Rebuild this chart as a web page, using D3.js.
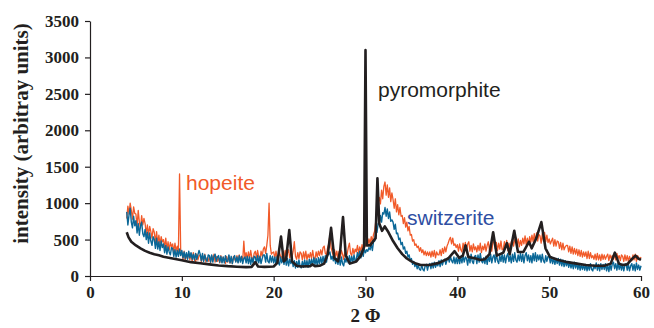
<!DOCTYPE html>
<html>
<head>
<meta charset="utf-8">
<script src="https://cdn.jsdelivr.net/npm/d3@7"></script>
<style>
  html, body { margin: 0; padding: 0; background: #fff; }
  svg { display: block; }
</style>
</head>
<body>
<svg id="chart" width="654" height="328"></svg>
<script>
// Powder diffraction scans, intensity vs 2Φ (degrees)
const scanStart = 4;       // first angle of the hopeite / switzerite scans
const scanStep = 0.125;    // angular step of those scans (8 readings per degree)

// one row per degree, 4° … 59°, then the reading at 60°
const hopeite = [
  790, 960, 850, 1000, 900, 780, 950, 860,
  850, 680, 900, 740, 660, 830, 700, 790,
  720, 580, 700, 560, 680, 610, 520, 650,
  600, 460, 610, 440, 560, 430, 540, 470,
  500, 390, 520, 370, 470, 360, 460, 400,
  440, 330, 450, 340, 410, 320, 1400, 350,
  330, 220, 340, 210, 300, 240, 320, 220,
  310, 200, 320, 230, 190, 300, 220, 280,
  290, 190, 280, 210, 300, 190, 250, 200,
  270, 180, 280, 220, 300, 190, 270, 200,
  250, 180, 280, 190, 260, 210, 170, 270,
  190, 280, 180, 250, 170, 270, 230, 200,
  280, 190, 290, 210, 270, 200, 480, 240,
  320, 230, 330, 240, 350, 250, 220, 310,
  340, 250, 350, 260, 230, 340, 270, 370,
  400, 310, 420, 560, 1000, 420, 300, 320,
  330, 240, 340, 250, 220, 330, 270, 240,
  340, 250, 350, 240, 310, 360, 250, 320,
  260, 340, 470, 270, 230, 320, 240, 330,
  310, 220, 330, 240, 340, 220, 300, 250,
  320, 240, 350, 250, 230, 330, 260, 340,
  280, 360, 290, 390, 410, 310, 290, 390,
  440, 560, 390, 330, 280, 360, 270, 340,
  250, 340, 240, 350, 300, 230, 330, 270,
  300, 390, 450, 310, 280, 380, 300, 370,
  330, 420, 310, 400, 330, 430, 340, 410,
  410, 500, 420, 510, 440, 540, 470, 570,
  620, 760, 860, 1010, 1080, 990, 1180, 1060,
  1230, 1290, 1110, 1250, 1080, 1210, 1020, 1140,
  1050, 930, 1060, 880, 980, 840, 940, 820,
  830, 720, 800, 670, 740, 620, 680, 560,
  570, 480, 500, 420, 440, 390, 410, 340,
  390, 320, 360, 290, 340, 280, 330, 280,
  330, 260, 340, 270, 350, 250, 330, 290,
  290, 360, 280, 380, 310, 400, 330, 410,
  450, 500, 530, 440, 520, 420, 440, 390,
  430, 340, 440, 360, 330, 450, 370, 460,
  350, 440, 470, 340, 420, 330, 440, 360,
  400, 330, 420, 350, 450, 320, 410, 360,
  440, 340, 420, 470, 350, 440, 340, 460,
  480, 380, 460, 350, 450, 370, 480, 360,
  370, 470, 380, 490, 350, 450, 370, 470,
  500, 410, 500, 530, 420, 510, 400, 490,
  420, 520, 440, 550, 430, 520, 430, 540,
  460, 560, 470, 580, 470, 590, 480, 570,
  550, 450, 580, 480, 600, 470, 560, 460,
  510, 440, 480, 520, 410, 500, 410, 480,
  470, 380, 460, 360, 450, 360, 400, 420,
  420, 330, 410, 310, 400, 300, 380, 300,
  370, 280, 360, 270, 350, 260, 330, 270,
  330, 240, 340, 240, 320, 250, 280, 230,
  300, 220, 310, 220, 290, 210, 300, 230,
  290, 230, 270, 300, 210, 290, 240, 280,
  230, 300, 220, 310, 240, 280, 210, 290,
  270, 200, 290, 210, 280, 200, 270, 220,
  210, 290, 220, 300, 200, 280, 250, 230,
  260
];

const switzerite = [
  880, 700, 840, 930, 740, 660, 820, 690,
  760, 590, 720, 560, 690, 740, 580, 540,
  640, 500, 600, 450, 590, 480, 420, 540,
  500, 380, 520, 370, 470, 350, 480, 390,
  440, 320, 420, 300, 400, 330, 290, 390,
  380, 270, 360, 260, 350, 270, 370, 280,
  350, 250, 330, 240, 320, 230, 340, 250,
  320, 230, 300, 220, 310, 230, 290, 350,
  300, 210, 310, 200, 290, 230, 200, 290,
  280, 190, 290, 190, 270, 300, 200, 260,
  280, 190, 270, 180, 260, 180, 280, 200,
  200, 290, 180, 270, 170, 250, 280, 190,
  260, 180, 280, 190, 270, 170, 240, 260,
  180, 270, 170, 260, 160, 250, 180, 270,
  260, 180, 280, 180, 270, 170, 240, 290,
  290, 190, 310, 200, 180, 280, 190, 270,
  180, 260, 160, 270, 190, 150, 260, 180,
  250, 160, 260, 150, 240, 140, 230, 170,
  220, 130, 210, 110, 200, 120, 220, 140,
  110, 200, 120, 220, 130, 210, 120, 230,
  150, 230, 150, 250, 160, 240, 140, 250,
  170, 260, 170, 270, 180, 280, 190, 290,
  300, 330, 230, 270, 210, 260, 170, 240,
  160, 250, 150, 260, 170, 140, 240, 190,
  270, 180, 280, 180, 270, 190, 290, 200,
  230, 320, 240, 340, 250, 350, 270, 370,
  320, 360, 340, 390, 360, 440, 350, 470,
  480, 590, 600, 720, 710, 830, 740, 870,
  850, 940, 820, 920, 790, 880, 750, 770,
  740, 640, 710, 580, 590, 500, 520, 430,
  460, 370, 400, 310, 340, 260, 290, 210,
  240, 160, 200, 130, 170, 100, 150, 90,
  80, 150, 90, 70, 140, 160, 80, 150,
  170, 100, 180, 110, 190, 120, 170, 140,
  210, 130, 220, 150, 210, 230, 160, 220,
  250, 190, 270, 210, 180, 260, 170, 250,
  170, 270, 170, 260, 180, 280, 190, 260,
  240, 150, 280, 180, 300, 200, 170, 270,
  280, 170, 290, 190, 310, 210, 180, 250,
  170, 270, 160, 280, 200, 300, 180, 260,
  290, 190, 310, 210, 170, 280, 200, 300,
  190, 290, 180, 270, 310, 200, 280, 180,
  300, 200, 320, 220, 190, 290, 210, 310,
  200, 300, 180, 280, 320, 210, 290, 190,
  280, 180, 310, 210, 320, 200, 290, 220,
  290, 190, 300, 210, 180, 280, 200, 270,
  270, 180, 260, 170, 250, 160, 240, 170,
  240, 150, 230, 140, 220, 130, 210, 140,
  200, 120, 190, 110, 180, 100, 190, 110,
  180, 90, 170, 80, 160, 90, 150, 80,
  160, 70, 150, 80, 170, 90, 70, 150,
  100, 180, 80, 160, 70, 170, 90, 160,
  90, 170, 70, 150, 60, 160, 80, 170,
  190, 100, 170, 80, 180, 90, 160, 80,
  160, 70, 150, 170, 80, 160, 70, 140,
  170, 80, 160, 70, 180, 90, 150, 80,
  140
];

const pyroAngle = [
  4, 4.2, 4.5, 5, 5.5, 6, 6.5, 7, 7.5, 8, 9, 10, 11, 12, 13, 14, 15, 16, 17, 17.6,
  18, 18.3, 19, 20, 20.4, 20.8, 21.1, 21.35, 21.7, 22, 22.5, 23, 24, 24.2, 24.5, 25, 25.5, 25.9, 26.25, 26.6,
  27, 27.25, 27.55, 27.85, 28.3, 29, 29.5, 29.85, 30, 30.15, 30.5, 31.1, 31.3, 31.5, 31.8, 32.1, 32.5, 33, 33.5, 34,
  34.5, 35, 35.5, 36, 37, 38, 39, 39.7, 40.2, 40.6, 40.9, 41.2, 42, 42.5, 43, 43.5, 43.9, 44.3, 45, 45.4,
  45.7, 46.2, 46.6, 47.2, 47.8, 48.1, 48.6, 49.15, 49.6, 50.1, 51, 52, 53, 54, 55, 56, 56.7, 57.15, 57.6, 58,
  58.5, 59, 59.4, 59.7, 60
];
const pyroIntensity = [
  600, 530, 470, 420, 380, 345, 320, 300, 285, 265, 240, 215, 190, 175, 160, 145, 135, 128, 122, 125,
  190, 130, 125, 130, 180, 540, 200, 230, 630, 200, 140, 130, 135, 160, 135, 140, 170, 300, 660, 250,
  200, 350, 810, 280, 170, 200, 280, 400, 3100, 420, 420, 520, 1340, 720, 620, 680, 600, 480, 380, 300,
  240, 200, 170, 150, 150, 180, 240, 340, 250, 280, 420, 260, 240, 220, 230, 300, 600, 280, 320, 450,
  300, 620, 330, 330, 470, 380, 520, 740, 380, 260, 220, 190, 170, 150, 140, 140, 170, 320, 170, 150,
  160, 230, 280, 240, 220
];

const xTicks = [0, 10, 20, 30, 40, 50, 60];
const yTicks = [0, 500, 1000, 1500, 2000, 2500, 3000, 3500];

const colors = { hopeite: "#f15a29", switzerite: "#0a6797", pyromorphite: "#231f20", switzLabel: "#2e4ea2" };

const svg = d3.select("#chart");
const x = d3.scaleLinear().domain([0, 60]).range([90, 641]);
const y = d3.scaleLinear().domain([0, 3500]).range([276, 21]);

const serif = "'Liberation Serif', 'Times New Roman', serif";
const sans = "'Liberation Sans', Arial, sans-serif";

// axes
const xAxis = svg.append("g")
  .attr("transform", `translate(0,${y(0)})`)
  .call(d3.axisBottom(x).tickValues(xTicks).tickFormat(d3.format("d"))
    .tickSize(5).tickSizeOuter(0).tickPadding(5));
const yAxis = svg.append("g")
  .attr("transform", `translate(${x(0)},0)`)
  .call(d3.axisLeft(y).tickValues(yTicks).tickFormat(d3.format("d"))
    .tickSize(5).tickSizeOuter(0).tickPadding(6));

[xAxis, yAxis].forEach(g => {
  g.select(".domain").attr("stroke", "#231f20").attr("stroke-width", 1.2);
  g.selectAll(".tick line").attr("stroke", "#231f20").attr("stroke-width", 1.2);
  g.selectAll(".tick text")
    .attr("fill", "#231f20")
    .style("font-family", serif)
    .style("font-weight", "bold")
    .style("font-size", "17px");
});

// axis titles
svg.append("text")
  .attr("x", x(30)).attr("y", 322)
  .attr("text-anchor", "middle")
  .attr("fill", "#231f20")
  .style("font-family", serif).style("font-weight", "bold").style("font-size", "19px")
  .text("2 Φ");

svg.append("text")
  .attr("transform", `translate(28,${(y(0) + y(3500)) / 2 - 15}) rotate(-90)`)
  .attr("text-anchor", "middle")
  .attr("fill", "#231f20")
  .style("font-family", serif).style("font-weight", "bold").style("font-size", "21px")
  .text("intensity (arbitray units)");

// series
const line = d3.line().x(d => x(d[0])).y(d => y(d[1]));
const scanPairs = vals => vals.map((v, i) => [scanStart + i * scanStep, v]);

svg.append("path")
  .datum(scanPairs(hopeite))
  .attr("fill", "none").attr("stroke", colors.hopeite)
  .attr("stroke-width", 1.3).attr("stroke-linejoin", "round")
  .attr("d", line);

svg.append("path")
  .datum(scanPairs(switzerite))
  .attr("fill", "none").attr("stroke", colors.switzerite)
  .attr("stroke-width", 1.4).attr("stroke-linejoin", "round")
  .attr("d", line);

svg.append("path")
  .datum(pyroAngle.map((a, i) => [a, pyroIntensity[i]]))
  .attr("fill", "none").attr("stroke", colors.pyromorphite)
  .attr("stroke-width", 2.6).attr("stroke-linejoin", "round")
  .attr("d", line);

// phase labels
const labels = [
  { text: "hopeite", x: 186, y: 190, color: colors.hopeite },
  { text: "pyromorphite", x: 378, y: 97, color: colors.pyromorphite },
  { text: "switzerite", x: 407, y: 225, color: colors.switzLabel }
];
svg.selectAll("text.phase")
  .data(labels)
  .join("text")
  .attr("class", "phase")
  .attr("x", d => d.x).attr("y", d => d.y)
  .attr("fill", d => d.color)
  .style("font-family", sans).style("font-size", "21px")
  .text(d => d.text);
</script>
</body>
</html>
